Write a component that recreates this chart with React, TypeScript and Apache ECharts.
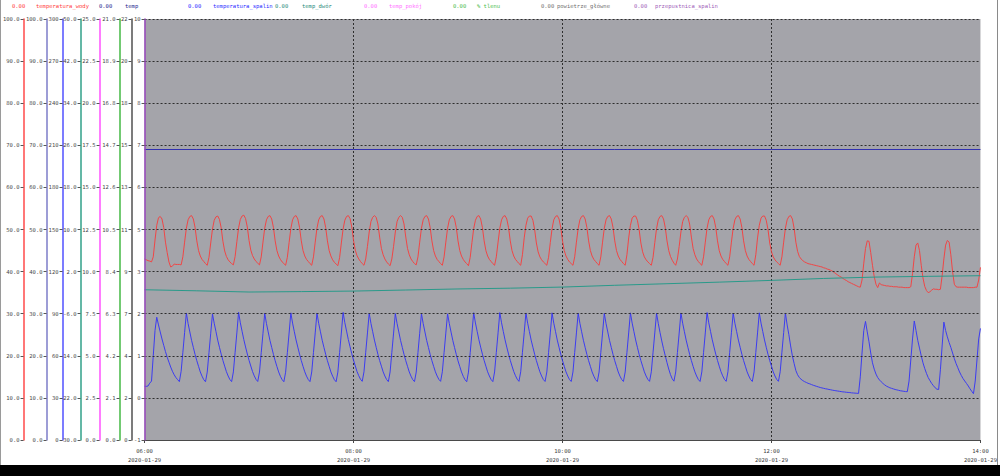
import React, { useEffect, useRef } from 'react';
import * as echarts from 'echarts';

// ---------- axis / tick data ----------
const timeTickMinutes = [0, 120, 240, 360, 480];
const timeTickLabels = ['06:00', '08:00', '10:00', '12:00', '14:00'];
const dateLabel = '2020-01-29';

const wodyTicks = [0, 10, 20, 30, 40, 50, 60, 70, 80, 90, 100];
const wodyLabels = ['0.0', '10.0', '20.0', '30.0', '40.0', '50.0', '60.0', '70.0', '80.0', '90.0', '100.0'];
const tempTicks = [0, 10, 20, 30, 40, 50, 60, 70, 80, 90, 100];
const tempLabels = ['0.0', '10.0', '20.0', '30.0', '40.0', '50.0', '60.0', '70.0', '80.0', '90.0', '100.0'];
const spalinTicks = [0, 30, 60, 90, 120, 150, 180, 210, 240, 270, 300];
const spalinLabels = ['0', '30', '60', '90', '120', '150', '180', '210', '240', '270', '300'];
const dworTicks = [-30, -22, -14, -6, 2, 10, 18, 26, 34, 42, 50];
const dworLabels = ['-30.0', '-22.0', '-14.0', '-6.0', '2.0', '10.0', '18.0', '26.0', '34.0', '42.0', '50.0'];
const pokojTicks = [0, 2.5, 5, 7.5, 10, 12.5, 15, 17.5, 20, 22.5, 25];
const pokojLabels = ['0.0', '2.5', '5.0', '7.5', '10.0', '12.5', '15.0', '17.5', '20.0', '22.5', '25.0'];
const tlenTicks = [0, 2.1, 4.2, 6.3, 8.4, 10.5, 12.6, 14.7, 16.8, 18.9, 21];
const tlenLabels = ['0.0', '2.1', '4.2', '6.3', '8.4', '10.5', '12.6', '14.7', '16.8', '18.9', '21.0'];
const powietrzeTicks = [0, 2.2, 4.4, 6.6, 8.8, 11, 13.2, 15.4, 17.6, 19.8, 22];
const powietrzeLabels = ['0', '2', '4', '7', '9', '11', '13', '15', '18', '20', '22'];
const przepustnicaTicks = [-1, 0.1, 1.2, 2.3, 3.4, 4.5, 5.6, 6.7, 7.8, 8.9, 10];
const przepustnicaLabels = ['-1', '0', '1', '2', '3', '5', '6', '7', '8', '9', '10'];

// ---------- legend ----------
const seriesNames = [
  'temperatura_wody',
  'temp',
  'temperatura_spalin',
  'temp_dwór',
  'temp_pokój',
  '% tlenu',
  'powietrze_główne',
  'przepustnica_spalin',
];
const legendValues = ['0.00', '0.00', '0.00', '0.00', '0.00', '0.00', '0.00', '0.00'];

// ---------- series values (one value per minute from 06:00) ----------
const temperaturaWody = [
  43.0, 42.8, 42.6, 42.5, 42.3, 43.5, 47.5, 51, 52.8, 53.1, 52.5, 50.5, 47, 44.5, 42.3, 41.1, 41.3, 41.8, 41.7, 41.7, 41.7,
  41.6, 43.5, 47, 50.3, 52.3, 53.1, 53.3, 52.5, 50.5, 47.3, 45, 43.7, 42.9, 42.4, 41.9,
  41.5, 43.4, 46.8, 50.1, 52.2, 53, 53.2, 52.4, 50.4, 47.2, 44.9, 43.6, 42.8, 42.3, 41.9,
  41.6, 43.6, 47.1, 50.4, 52.4, 53.2, 53.4, 52.6, 50.6, 47.4, 45.1, 43.8, 43, 42.4, 42,
  41.6, 43.5, 47, 50.3, 52.3, 53.1, 53.3, 52.5, 50.5, 47.3, 45, 43.7, 42.9, 42.3, 41.9,
  41.5, 43.4, 46.9, 50.2, 52.3, 53.1, 53.3, 52.5, 50.5, 47.3, 45, 43.7, 42.9, 42.4, 41.9,
  41.5, 43.5, 47, 50.3, 52.3, 53.1, 53.3, 52.5, 50.5, 47.3, 45, 43.7, 42.8, 42.2, 41.8,
  41.4, 43.3, 46.8, 50.1, 52.2, 53.1, 53.3, 52.6, 50.6, 47.4, 45.1, 43.8, 43, 42.4, 41.9,
  41.5, 43, 46, 49.4, 51.9, 52.9, 53.3, 52.9, 51.3, 48.2, 45.5, 44, 43, 42.3, 41.8,
  41.4, 43, 46, 49.4, 51.9, 52.9, 53.3, 52.9, 51.3, 48.2, 45.5, 44, 43, 42.4, 41.9,
  41.6, 43.5, 47, 50.3, 52.3, 53.1, 53.3, 52.5, 50.5, 47.3, 45, 43.7, 42.9, 42.4, 41.9,
  41.5, 43.5, 47, 50.3, 52.3, 53.1, 53.3, 52.5, 50.5, 47.3, 45, 43.7, 42.9, 42.3, 41.9,
  41.4, 43.4, 46.9, 50.2, 52.2, 53.1, 53.3, 52.5, 50.5, 47.3, 45, 43.7, 42.9, 42.4, 41.9,
  41.5, 43.5, 47, 50.3, 52.3, 53.1, 53.3, 52.5, 50.5, 47.3, 45, 43.7, 42.9, 42.4, 41.9,
  41.5, 44, 48, 51, 52.7, 53.2, 53.2, 52.2, 50, 46.8, 44.7, 43.5, 42.8, 42.3, 41.9,
  41.5, 43.4, 46.9, 50.2, 52.3, 53.1, 53.3, 52.5, 50.5, 47.3, 45, 43.7, 42.9, 42.3, 41.9,
  41.5, 43.5, 47, 50.3, 52.3, 53.1, 53.3, 52.5, 50.5, 47.3, 45, 43.7, 42.9, 42.4, 41.9,
  41.5, 43.5, 47, 50.3, 52.3, 53.1, 53.3, 52.5, 50.5, 47.3, 45, 43.7, 42.9, 42.4, 41.9,
  41.5, 44, 48, 51, 52.7, 53.2, 53.2, 52.2, 50, 46.8, 44.7, 43.5, 42.8, 42.3, 41.9,
  41.5, 43.4, 46.9, 50.2, 52.3, 53.1, 53.3, 52.5, 50.5, 47.3, 45, 43.6, 42.7, 42,
  41.5, 43, 46, 49.4, 51.9, 52.9, 53.3, 52.9, 51.3, 48.2, 45.5, 44, 43, 42.4, 41.9,
  41.5, 43.5, 47, 50.3, 52.3, 53.1, 53.3, 52.5, 50.5, 47.3, 45, 43.7, 42.9, 42.4, 41.9,
  41.5, 43.5, 47, 50.3, 52.3, 53.1, 53.3, 52.5, 50.5, 47.3, 45, 43.7, 42.9, 42.4, 41.9,
  41.5, 44, 48, 51, 52.7, 53.2, 53.2, 52.2, 50, 46.8, 44.7, 43.5, 42.8, 42.3, 41.9,
  41.5, 43.5, 47, 50.3, 52.3, 53.1, 53.3, 52.5, 50.3,
  47, 44.8, 43.6, 43, 42.6, 42.3, 42.1, 41.9, 41.8, 41.7, 41.6, 41.5, 41.4, 41.3, 41.2, 41.1, 40.9, 40.8, 40.6, 40.5,
  40.3, 40.1, 39.8, 39.5, 39.2, 38.9, 38.7, 38.4, 38.1, 37.9, 37.6, 37.4, 37.2, 37, 36.8, 36.6, 36.4, 36.3,
  38, 42, 45.5, 47.3, 47.2, 44.5, 41.5, 38.8, 37, 36.2,
  37.3, 36.9, 36.8, 36.7, 36.6, 36.6, 36.5, 36.5, 36.4, 36.4, 36.4, 36.3, 36.3, 36.3, 36.2, 36.2, 36.2, 36.2, 36.4,
  39.5, 43.5, 46.3, 46.8, 45, 41.5, 38.5, 36.5, 35.5, 35,
  35.2, 35.6, 35.9, 35.8, 35.8, 35.7, 35.8,
  39, 43, 46.3, 47.4, 47, 44, 40, 37,
  36.4, 36.3, 36.3, 36.3, 36.3, 36.3, 36.3, 36.2, 36.2, 36.2, 36.2, 36.3, 36.3, 38, 41,
];

const temperaturaSpalin = [
  38.3, 38.2, 38.5, 40.5, 42.0, 60.0, 78.0, 87.5,
  82, 77, 72, 67.5, 63, 59, 55.5, 52, 49, 46.5, 44.5, 43, 41.6, 49, 62.5, 76.5, 90.5,
  83, 77, 71, 66, 61, 56.5, 52.5, 48.5, 45.5, 43, 41.5, 48.4, 62.3, 76.1, 89.8,
  83.2, 77.3, 71.2, 66.1, 61.2, 56.7, 52.6, 48.7, 45.6, 43.1, 41.6, 48.5, 62.5, 76.3, 91.0,
  83.5, 77.5, 71.5, 66.3, 61.3, 56.8, 52.7, 48.8, 45.7, 43.2, 41.7, 48.4, 62.2, 76.0, 90.2,
  83, 77, 71, 66, 61, 56.5, 52.4, 48.5, 45.4, 43, 41.5, 48.3, 62.2, 76.2, 90.6,
  83.3, 77.2, 71.3, 66.2, 61.2, 56.6, 52.5, 48.6, 45.5, 43.1, 41.6, 48.5, 62.4, 76.3, 90.4,
  83.1, 77.1, 71.1, 66, 61.1, 56.5, 52.5, 48.5, 45.5, 43, 41.5, 48.4, 62.3, 76.2, 90.9,
  83.6, 77.6, 71.6, 66.4, 61.4, 56.9, 52.8, 48.8, 45.8, 43.3, 41.8, 48.6, 62.5, 76.3, 90.3,
  83.1, 77.2, 71.2, 66.1, 61.1, 56.6, 52.6, 48.6, 45.6, 43.1, 41.6, 48.5, 62.4, 76.2, 90.1,
  83, 77, 71, 66, 61, 56.5, 52.5, 48.5, 45.5, 43, 41.6, 48.4, 62.3, 76.1, 90.0,
  83, 77, 71, 66, 61, 56.5, 52.5, 48.6, 45.6, 43.2, 41.8, 48.6, 62.4, 76.2, 89.9,
  83, 76.9, 71, 65.9, 61, 56.4, 52.4, 48.5, 45.4, 43, 41.5, 48.4, 62.3, 76.3, 90.7,
  83.4, 77.4, 71.4, 66.2, 61.2, 56.7, 52.6, 48.6, 45.6, 43.1, 41.6, 48.5, 62.4, 76.4, 90.8,
  83.5, 77.4, 71.4, 66.2, 61.3, 56.8, 52.7, 48.8, 45.8, 43.3, 41.8, 48.6, 62.5, 76.4, 90.5,
  83.2, 77.2, 71.2, 66.1, 61.1, 56.6, 52.5, 48.6, 45.6, 43.1, 41.7, 48.5, 62.4, 76.3, 90.6,
  83.2, 77.2, 71.2, 66.1, 61.1, 56.6, 52.5, 48.6, 45.6, 43.1, 41.7, 48.5, 62.4, 76.3, 90.4,
  83.1, 77.1, 71.1, 66, 61, 56.5, 52.5, 48.5, 45.5, 43, 41.6, 48.4, 62.3, 76.2, 90.2,
  83, 77, 71, 66, 61, 56.5, 52.5, 48.5, 45.5, 43.1, 41.7, 48.5, 62.4, 76.3, 90.6,
  83.3, 77.3, 71.3, 66.1, 61.1, 56.6, 52.6, 48.6, 45.6, 43.2, 41.8, 48.6, 62.5, 76.3, 90.3,
  83.1, 76.6, 70.6, 65.1, 60.1, 55.1, 50.6, 46.6, 43.6, 41.9, 48.5, 62.4, 76.2, 90.5,
  83.2, 77.2, 71.2, 66.1, 61.1, 56.6, 52.5, 48.6, 45.6, 43.1, 41.7, 48.5, 62.4, 76.3, 90.8,
  83.5, 77.4, 71.4, 66.2, 61.2, 56.7, 52.6, 48.7, 45.7, 43.2, 41.8, 48.6, 62.5, 76.4, 90.4,
  83.2, 77.2, 71.2, 66.1, 61.1, 56.6, 52.6, 48.6, 45.6, 43.1, 41.7, 48.5, 62.4, 76.3, 90.6,
  83.3, 77.3, 71.3, 66.1, 61.1, 56.6, 52.6, 48.6, 45.6, 43.2, 41.8, 48.6, 62.6, 76.5, 90.5,
  82, 75, 67, 60, 54.5, 49.5, 46.5, 44.5, 43.3, 42.3, 41.6, 41, 40.4, 40, 39.5, 39, 38.6, 38.2, 37.8, 37.4, 37.1, 36.8, 36.5,
  36.3, 36, 35.8, 35.5, 35.3, 35.1, 34.9, 34.7, 34.5, 34.3, 34.2, 34, 33.9, 33.8, 33.6, 33.5, 33.4, 33.3, 33.2, 45, 62, 78, 84.5,
  77, 70, 62, 55, 50.5, 47, 44.5, 42.8, 41.5, 40.3, 39.3, 38.4, 37.8, 37.2, 36.8, 36.4, 36, 35.7, 35.4, 35.1, 34.9, 34.7, 34.5, 34.4, 42, 57, 72, 84.8,
  78, 71, 65.5, 60, 55, 51, 47.5, 44.5, 42.3, 40.3, 38.7, 37.2, 36.2, 36, 50, 67, 84,
  78, 73.5, 69.5, 66, 62, 58, 54.5, 51.5, 48.5, 46, 43.8, 42, 40.3, 38.5, 36.5, 34.7, 33, 42, 57, 72, 79.5,
];

// values sampled every 30 minutes
const sampleMinutes = [0, 30, 60, 90, 120, 150, 180, 210, 240, 270, 300, 330, 360, 390, 420, 450, 480];
const tempValues = [69, 69, 69, 69, 69, 69, 69, 69, 69, 69, 69, 69, 69, 69, 69, 69, 69];
const tempDworValues = [-1.45, -1.65, -1.88, -1.8, -1.7, -1.5, -1.3, -1.15, -0.94, -0.6, -0.3, 0.0, 0.33, 0.7, 0.96, 1.1, 1.22];

// ---------- styling ----------
const FONT = '"DejaVu Sans Mono", "Liberation Mono", monospace';
const FS = 5.5;
const legendColors = ['#ff3c3c', '#24248c', '#2a2aff', '#1f8a7a', '#ff70ff', '#4cbc4c', '#707070', '#a060b8'];
const legendValueX = [12, 99, 188, 275, 364, 453, 541, 634];
const legendNameX = [36, 125, 213, 302, 389, 477, 557, 655];
const axisColors = ['#ff4a4a', '#7c7cc8', '#5050ff', '#30a088', '#ff50ff', '#44b844', '#505050', '#9848bc'];
const axisOffsets = [121, 98, 82, 64, 45, 25, 13, 0];
const lineColors = ['#f04646', '#3030b0', '#3c3cf0', '#2a9a8a', '#ff66ff', '#66c066', '#606060', '#a050c0'];

const axisDefs = [
  { ticks: wodyTicks, labels: wodyLabels },
  { ticks: tempTicks, labels: tempLabels },
  { ticks: spalinTicks, labels: spalinLabels },
  { ticks: dworTicks, labels: dworLabels },
  { ticks: pokojTicks, labels: pokojLabels },
  { ticks: tlenTicks, labels: tlenLabels },
  { ticks: powietrzeTicks, labels: powietrzeLabels },
  { ticks: przepustnicaTicks, labels: przepustnicaLabels },
];

function labelFor(ticks: number[], labels: string[], v: number) {
  let best = 0;
  for (let k = 1; k < ticks.length; k++) {
    if (Math.abs(ticks[k] - v) < Math.abs(ticks[best] - v)) best = k;
  }
  return labels[best];
}

function buildOption() {
  const yAxis = axisDefs.map((d, i) => {
    const min = d.ticks[0];
    const max = d.ticks[d.ticks.length - 1];
    const ax: any = {
      type: 'value',
      position: 'left',
      offset: axisOffsets[i],
      min,
      max,
      axisLine: { show: true, onZero: false, lineStyle: { color: axisColors[i], width: 1.5 } },
      axisTick: { show: true, length: 3, customValues: d.ticks, lineStyle: { color: '#555555', width: 1 } },
      axisLabel: {
        show: true,
        customValues: d.ticks,
        formatter: (v: number) => labelFor(d.ticks, d.labels, v),
        fontSize: FS,
        fontFamily: FONT,
        color: '#4a4a4a',
        margin: 4,
      },
      splitLine: { show: false },
      z: 5,
    };
    if (i === 0) {
      ax.interval = 10;
      ax.splitLine = {
        show: true,
        showMinLine: false,
        lineStyle: { color: '#2e2e2e', type: [2, 2], width: 1 },
      };
    }
    return ax;
  });

  const minuteSeries = (vals: number[]) => vals.map((v, i) => [i, v]);
  const sampled = (vals: number[]) => vals.map((v, i) => [sampleMinutes[i], v]);

  const seriesData = [
    minuteSeries(temperaturaWody),
    sampled(tempValues),
    minuteSeries(temperaturaSpalin),
    sampled(tempDworValues),
    [],
    [],
    [],
    [],
  ];

  const series = seriesNames.map((name, i) => ({
    name,
    type: 'line',
    yAxisIndex: i,
    data: seriesData[i],
    showSymbol: false,
    symbol: 'none',
    lineStyle: { color: lineColors[i], width: 1 },
    itemStyle: { color: lineColors[i] },
    z: 3,
  }));

  const legendGraphics: any[] = [];
  seriesNames.forEach((name, i) => {
    legendGraphics.push({
      type: 'text',
      x: legendValueX[i],
      y: 6,
      style: { text: legendValues[i], fill: legendColors[i], fontSize: FS, fontFamily: FONT, verticalAlign: 'middle', textVerticalAlign: 'middle' },
    });
    legendGraphics.push({
      type: 'text',
      x: legendNameX[i],
      y: 6,
      style: { text: name, fill: legendColors[i], fontSize: FS, fontFamily: FONT, verticalAlign: 'middle', textVerticalAlign: 'middle' },
    });
  });

  return {
    animation: false,
    backgroundColor: '#ffffff',
    grid: {
      left: 143,
      right: 17,
      top: 19,
      bottom: 36,
      show: true,
      backgroundColor: '#a4a4aa',
      borderWidth: 0,
      containLabel: false,
    },
    xAxis: {
      type: 'value',
      min: 0,
      max: 480,
      interval: 60,
      axisLine: { show: true, onZero: false, lineStyle: { color: '#4a4a4a', width: 1 } },
      axisTick: { show: true, customValues: timeTickMinutes, length: 3, lineStyle: { color: '#4a4a4a' } },
      axisLabel: {
        customValues: timeTickMinutes,
        formatter: (v: number) => {
          const k = timeTickMinutes.indexOf(Math.round(v));
          return k >= 0 ? `${timeTickLabels[k]}\n${dateLabel}` : '';
        },
        fontSize: FS,
        fontFamily: FONT,
        color: '#404040',
        lineHeight: 9.5,
        margin: 6,
      },
      splitLine: {
        show: true,
        showMinLine: false,
        showMaxLine: false,
        lineStyle: { color: '#2e2e2e', type: [2, 2], width: 1 },
      },
    },
    yAxis,
    series,
    graphic: [
      ...legendGraphics,
      { type: 'rect', shape: { x: 0, y: 465, width: 1000, height: 11 }, style: { fill: '#000000' } },
      { type: 'line', shape: { x1: 0.5, y1: 0, x2: 0.5, y2: 465 }, style: { stroke: '#9a9a9a', lineWidth: 1 } },
      { type: 'line', shape: { x1: 997.5, y1: 0, x2: 997.5, y2: 465 }, style: { stroke: '#8a8a8a', lineWidth: 1 } },
    ],
  };
}

export default function App() {
  const ref = useRef<HTMLDivElement>(null);
  useEffect(() => {
    document.body.style.margin = '0';
    if (!ref.current) return;
    const chart = echarts.init(ref.current, undefined, { renderer: 'svg' });
    chart.setOption(buildOption() as any);
    return () => chart.dispose();
  }, []);
  return (
    <div
      ref={ref}
      style={{ position: 'absolute', left: 0, top: 0, width: 1000, height: 476, background: '#ffffff' }}
    />
  );
}
